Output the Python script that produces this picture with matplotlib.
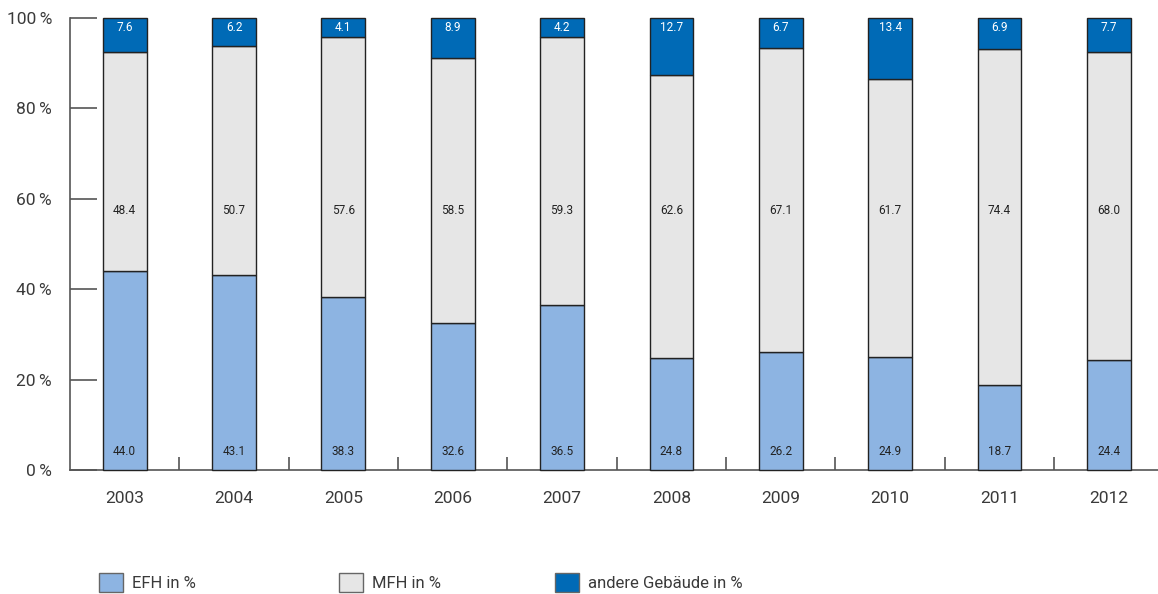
import matplotlib.pyplot as plt
import numpy as np
from matplotlib.patches import Patch

years = ['2003', '2004', '2005', '2006', '2007', '2008', '2009', '2010', '2011', '2012']
efh = [44.0, 43.1, 38.3, 32.6, 36.5, 24.8, 26.2, 24.9, 18.7, 24.4]
mfh = [48.4, 50.7, 57.6, 58.5, 59.3, 62.6, 67.1, 61.7, 74.4, 68.0]
andere = [7.6, 6.2, 4.1, 8.9, 4.2, 12.7, 6.7, 13.4, 6.9, 7.7]
series_names = ['EFH in %', 'MFH in %', 'andere Gebäude in %']

c_efh = '#8DB4E2'
c_mfh = '#E6E6E6'
c_and = '#006AB6'
edge = '#222222'
axcol = '#555555'
txt = '#3a3a3a'

plt.rcParams['font.family'] = ['Roboto', 'DejaVu Sans']

fig = plt.figure(figsize=(11.58, 5.94), dpi=100)
ax = fig.add_axes([70 / 1158, (594 - 470) / 594, 1 - 70 / 1158, (470 - 18) / 594])

x = np.arange(len(years))
w = 0.40
efh_a = np.array(efh)
mfh_a = np.array(mfh)
and_a = np.array(andere)

ax.bar(x, efh_a, w, color=c_efh, edgecolor=edge, linewidth=1.0, clip_on=False, zorder=3)
ax.bar(x, mfh_a, w, bottom=efh_a, color=c_mfh, edgecolor=edge, linewidth=1.0, clip_on=False, zorder=3)
ax.bar(x, and_a, w, bottom=efh_a + mfh_a, color=c_and, edgecolor=edge, linewidth=1.0, clip_on=False, zorder=3)

# value labels: fixed heights like in the original
for i in range(len(years)):
    ax.text(x[i], 4, f'{efh[i]:.1f}', ha='center', va='center', fontsize=8.5, color='#222222', zorder=4)
    ax.text(x[i], 57.5, f'{mfh[i]:.1f}', ha='center', va='center', fontsize=8.5, color='#222222', zorder=4)
    ax.text(x[i], 97.8, f'{andere[i]:.1f}', ha='center', va='center', fontsize=8.5, color='white', zorder=4)

ax.set_xlim(-0.5, 9.45)
ax.set_ylim(0, 100)

for s in ['top', 'right']:
    ax.spines[s].set_visible(False)
for s in ['left', 'bottom']:
    ax.spines[s].set_color(axcol)
    ax.spines[s].set_linewidth(1.2)

ax.set_yticks(np.arange(0, 101, 20))
ax.set_yticklabels([f'{v}\u2009%' for v in range(0, 101, 20)], fontsize=12.5, color=txt)
ax.tick_params(axis='y', direction='in', length=19.5, width=1.2, color=axcol, pad=13)

ax.set_xticks(x)
ax.set_xticklabels(years, fontsize=12.5, color=txt)
ax.tick_params(axis='x', which='major', length=0, pad=15)
ax.set_xticks(x[:-1] + 0.5, minor=True)
ax.tick_params(axis='x', which='minor', direction='in', length=9.5, width=1.2, color=axcol)

# legend, three separate entries placed like the original
cols = [c_efh, c_mfh, c_and]
lx = [99, 339, 555]
for name, c, px in zip(series_names, cols, lx):
    h = Patch(facecolor=c, edgecolor='#666666', linewidth=1.0)
    fig.legend([h], [name], loc='center left', bbox_to_anchor=(px / 1158, 1 - 582.5 / 594),
               frameon=False, fontsize=12, handlelength=1.45, handleheight=1.35,
               handletextpad=0.55, borderpad=0, borderaxespad=0, labelcolor=txt)

fig.savefig('out.png', dpi=100)
